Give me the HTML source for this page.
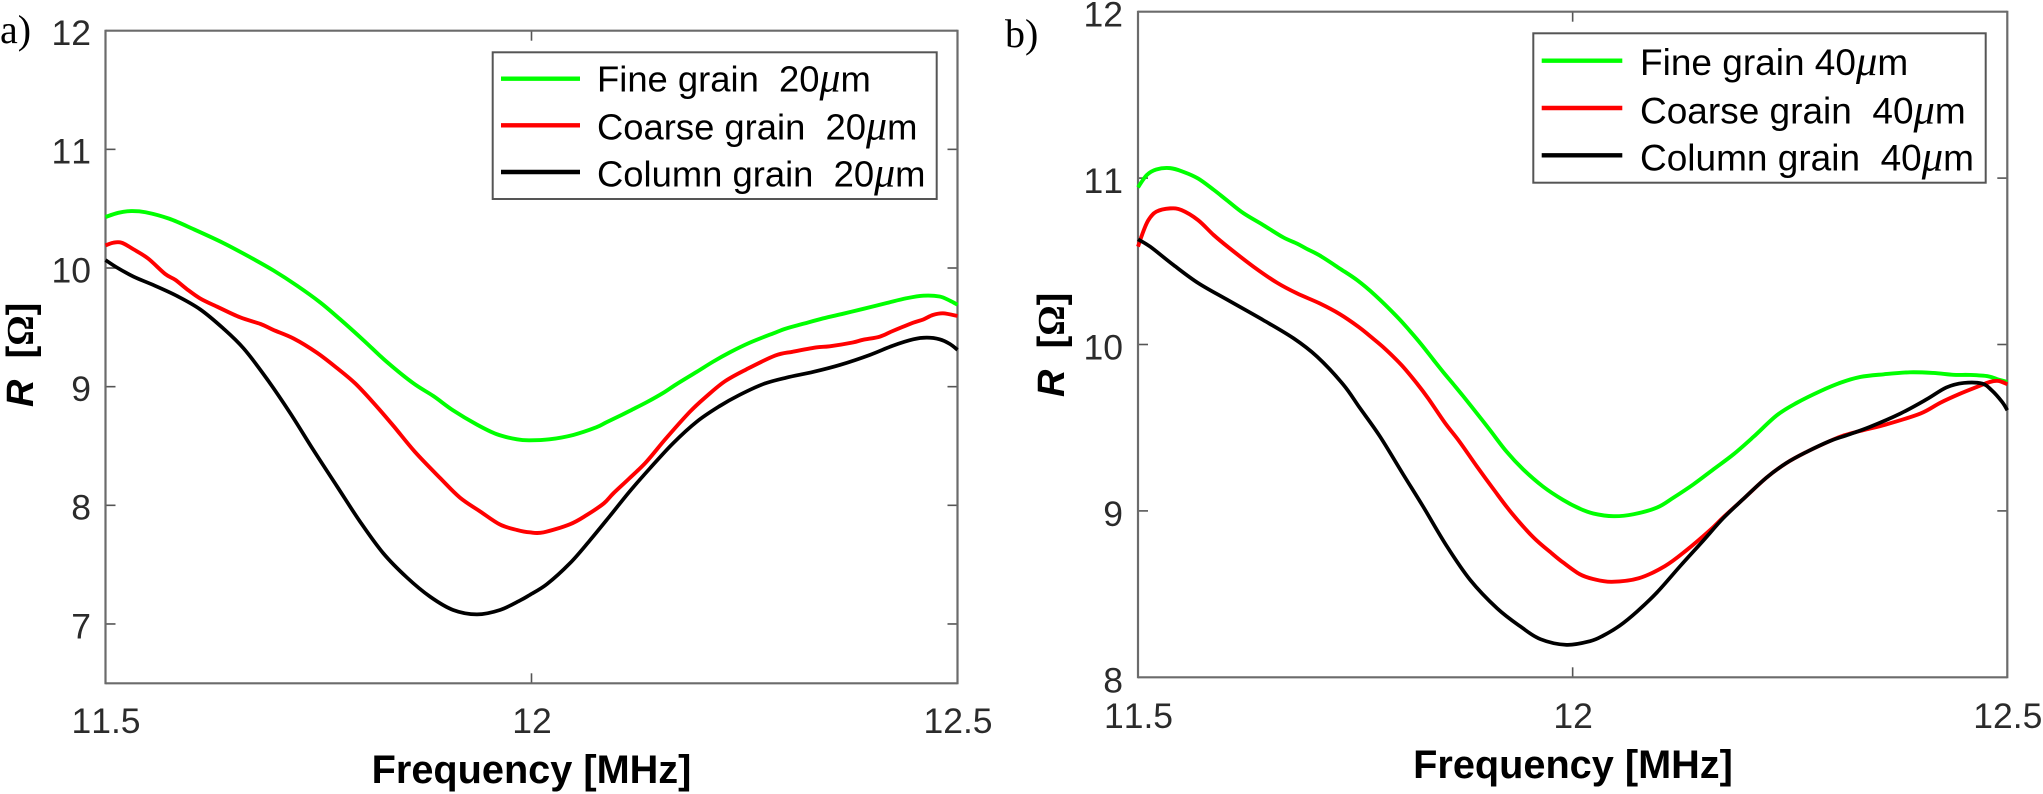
<!DOCTYPE html>
<html lang="en">
<head>
<meta charset="utf-8">
<title>Resistance vs frequency</title>
<style>
html,body{margin:0;padding:0;background:#fff;}
svg{display:block;}
text{white-space:pre;}
.tick{font-family:"Liberation Sans",sans-serif;font-size:35.5px;fill:#2b2b2b;font-kerning:none;}
.leg{font-family:"Liberation Sans",sans-serif;font-size:36.4px;fill:#000;font-kerning:none;}
.legb{font-size:37px;}
.mu{font-family:"Liberation Serif",serif;font-style:italic;font-size:1.15em;}
.xl{font-family:"Liberation Sans",sans-serif;font-weight:bold;font-size:39.7px;fill:#000;}
.yl{font-family:"Liberation Sans",sans-serif;font-weight:bold;font-size:38px;fill:#000;}
.om{font-family:"Liberation Serif",serif;font-weight:bold;}
.pl{font-family:"Liberation Serif",serif;font-size:40px;fill:#000;}
</style>
</head>
<body>
<svg id="figure" xmlns="http://www.w3.org/2000/svg" width="2043" height="794" viewBox="0 0 2043 794">
  <rect width="2043" height="794" fill="#fff"/>
  <g id="panelA"></g>
  <g id="panelB"></g>

  <text class="pl" x="0" y="43">a)</text>
  <text class="pl" x="1005" y="47">b)</text>

  <text class="xl" x="531.5" y="783" text-anchor="middle">Frequency [MHz]</text>
  <text class="xl" x="1573" y="778" text-anchor="middle">Frequency [MHz]</text>

  <text class="yl" transform="translate(33,407) rotate(-90)"><tspan font-style="italic">R</tspan>  [<tspan class="om">Ω</tspan>]</text>
  <text class="yl" transform="translate(1064,397) rotate(-90)"><tspan font-style="italic">R</tspan>  [<tspan class="om">Ω</tspan>]</text>

  <g>
    <rect x="492.7" y="52.3" width="444" height="146.7" fill="#fff" stroke="#555" stroke-width="2"/>
    <line x1="501" x2="580" y1="78.7" y2="78.7" stroke="#00ff00" stroke-width="4.4"/>
    <line x1="501" x2="580" y1="125.3" y2="125.3" stroke="#ff0000" stroke-width="4.4"/>
    <line x1="501" x2="580" y1="172" y2="172" stroke="#000" stroke-width="4.4"/>
    <text class="leg" x="597" y="91.7">Fine grain  20<tspan class="mu">μ</tspan>m</text>
    <text class="leg" x="597" y="139.3">Coarse grain  20<tspan class="mu">μ</tspan>m</text>
    <text class="leg" x="597" y="186.7">Column grain  20<tspan class="mu">μ</tspan>m</text>
  </g>

  <g>
    <rect x="1533.3" y="33.3" width="452.4" height="149.4" fill="#fff" stroke="#555" stroke-width="2"/>
    <line x1="1541.7" x2="1622.3" y1="60.7" y2="60.7" stroke="#00ff00" stroke-width="4.4"/>
    <line x1="1541.7" x2="1622.3" y1="108" y2="108" stroke="#ff0000" stroke-width="4.4"/>
    <line x1="1541.7" x2="1622.3" y1="155.3" y2="155.3" stroke="#000" stroke-width="4.4"/>
    <text class="leg legb" x="1640" y="75">Fine grain 40<tspan class="mu">μ</tspan>m</text>
    <text class="leg legb" x="1640" y="123.3">Coarse grain  40<tspan class="mu">μ</tspan>m</text>
    <text class="leg legb" x="1640" y="170.7">Column grain  40<tspan class="mu">μ</tspan>m</text>
  </g>
</svg>
<script>
// ---------- Chart data ----------
const xTickValues = [11.5, 12, 12.5];
const xTickLabels = ["11.5", "12", "12.5"];
const yTicksA = [7, 8, 9, 10, 11, 12];
const yTicksB = [8, 9, 10, 11, 12];

const fineFreqA = [11.5,11.515,11.53,11.547,11.575,11.604,11.6385,11.67,11.697,11.725,11.752,11.775,11.803,11.83,11.861,11.885,11.908,11.936,11.959,11.983,11.998,12.021,12.049,12.076,12.088,12.106,12.115,12.135,12.154,12.17,12.194,12.213,12.233,12.256,12.284,12.299,12.319,12.342,12.366,12.389,12.417,12.44,12.46,12.479,12.491,12.5];
const fineValuesA = [10.43,10.465,10.48,10.47,10.415,10.325,10.21,10.09,9.98,9.85,9.71,9.57,9.39,9.21,9.03,8.92,8.80,8.68,8.60,8.556,8.548,8.556,8.593,8.657,8.70,8.762,8.795,8.868,8.945,9.02,9.125,9.21,9.29,9.37,9.45,9.49,9.53,9.575,9.615,9.655,9.705,9.745,9.767,9.76,9.725,9.69];

const coarseFreqA = [11.5,11.509,11.519,11.533,11.55,11.57,11.582,11.595,11.611,11.631,11.658,11.682,11.697,11.721,11.748,11.772,11.793,11.815,11.838,11.863,11.893,11.916,11.94,11.963,11.983,11.998,12.014,12.045,12.065,12.085,12.096,12.115,12.135,12.158,12.186,12.205,12.227,12.252,12.286,12.307,12.334,12.35,12.377,12.389,12.409,12.424,12.448,12.46,12.471,12.483,12.5];
const coarseValuesA = [10.19,10.213,10.213,10.157,10.08,9.95,9.90,9.825,9.744,9.674,9.584,9.528,9.478,9.405,9.287,9.155,9.028,8.86,8.669,8.452,8.228,8.065,7.947,7.838,7.792,7.772,7.772,7.84,7.919,8.017,8.10,8.228,8.368,8.565,8.789,8.916,9.045,9.145,9.262,9.295,9.331,9.34,9.372,9.395,9.422,9.469,9.539,9.567,9.604,9.618,9.596];

const columnFreqA = [11.5,11.513,11.533,11.556,11.584,11.611,11.638,11.662,11.689,11.717,11.744,11.772,11.799,11.826,11.854,11.881,11.908,11.936,11.963,11.987,11.998,12.018,12.045,12.068,12.092,12.115,12.139,12.166,12.194,12.221,12.244,12.272,12.299,12.331,12.362,12.397,12.424,12.448,12.464,12.479,12.491,12.5];
const columnValuesA = [10.067,10.006,9.927,9.857,9.764,9.652,9.492,9.323,9.07,8.775,8.466,8.157,7.86,7.596,7.39,7.23,7.118,7.081,7.118,7.2,7.245,7.335,7.511,7.70,7.91,8.115,8.312,8.522,8.705,8.837,8.93,9.022,9.076,9.125,9.183,9.267,9.345,9.399,9.413,9.399,9.36,9.31];

const fineFreqB = [11.5,11.51,11.521,11.537,11.552,11.569,11.587,11.602,11.621,11.644,11.667,11.683,11.694,11.709,11.732,11.752,11.773,11.798,11.813,11.826,11.84,11.851,11.863,11.874,11.89,11.905,11.924,11.943,11.966,11.989,12.008,12.024,12.047,12.07,12.097,12.116,12.139,12.162,12.185,12.208,12.235,12.258,12.285,12.308,12.331,12.358,12.388,12.415,12.438,12.457,12.478,12.49,12.5];
const fineValuesB = [10.944,11.018,11.052,11.06,11.038,10.998,10.93,10.868,10.79,10.718,10.644,10.606,10.575,10.535,10.457,10.387,10.295,10.167,10.08,10.0,9.907,9.835,9.76,9.69,9.585,9.485,9.356,9.25,9.146,9.066,9.014,8.984,8.968,8.98,9.02,9.08,9.16,9.25,9.34,9.445,9.575,9.65,9.72,9.77,9.805,9.821,9.833,9.829,9.818,9.817,9.809,9.789,9.775];

const coarseFreqB = [11.5,11.506,11.512,11.521,11.537,11.55,11.569,11.587,11.604,11.633,11.66,11.683,11.709,11.732,11.754,11.767,11.784,11.803,11.821,11.834,11.853,11.87,11.89,11.909,11.93,11.955,11.976,11.989,12.008,12.024,12.045,12.076,12.106,12.131,12.158,12.173,12.196,12.223,12.246,12.269,12.296,12.311,12.334,12.361,12.4,12.423,12.446,12.465,12.48,12.49,12.5];
const coarseValuesB = [10.588,10.678,10.748,10.798,10.818,10.808,10.748,10.658,10.584,10.467,10.371,10.307,10.247,10.183,10.105,10.05,9.975,9.877,9.765,9.675,9.53,9.415,9.266,9.13,8.986,8.84,8.745,8.69,8.62,8.59,8.574,8.595,8.668,8.764,8.884,8.96,9.07,9.2,9.288,9.354,9.42,9.452,9.485,9.52,9.585,9.65,9.705,9.745,9.775,9.781,9.761];

const columnFreqB = [11.5,11.514,11.541,11.569,11.602,11.644,11.679,11.706,11.736,11.755,11.778,11.805,11.828,11.855,11.882,11.913,11.94,11.963,11.993,12.02,12.035,12.054,12.074,12.097,12.124,12.15,12.173,12.196,12.223,12.246,12.269,12.296,12.315,12.342,12.377,12.407,12.43,12.45,12.471,12.482,12.494,12.5];
const columnValuesB = [10.632,10.588,10.477,10.37,10.271,10.147,10.037,9.927,9.76,9.62,9.45,9.22,9.026,8.79,8.586,8.415,8.305,8.229,8.195,8.217,8.25,8.31,8.395,8.51,8.67,8.82,8.955,9.07,9.2,9.288,9.354,9.42,9.454,9.505,9.585,9.67,9.742,9.769,9.765,9.725,9.655,9.605];

// ---------- Drawing ----------
const NS = "http://www.w3.org/2000/svg";

function smoothPath(pts) {
  let d = "M" + pts[0][0].toFixed(2) + " " + pts[0][1].toFixed(2);
  for (let i = 0; i < pts.length - 1; i++) {
    const p0 = pts[i - 1] || pts[i];
    const p1 = pts[i];
    const p2 = pts[i + 1];
    const p3 = pts[i + 2] || p2;
    const c1x = p1[0] + (p2[0] - p0[0]) / 6;
    const c1y = p1[1] + (p2[1] - p0[1]) / 6;
    const c2x = p2[0] - (p3[0] - p1[0]) / 6;
    const c2y = p2[1] - (p3[1] - p1[1]) / 6;
    d += "C" + c1x.toFixed(2) + " " + c1y.toFixed(2) + " " + c2x.toFixed(2) + " " + c2y.toFixed(2) + " " + p2[0].toFixed(2) + " " + p2[1].toFixed(2);
  }
  return d;
}

function addLine(parent, x1, y1, x2, y2, color, width, name) {
  const el = document.createElementNS(NS, "line");
  el.setAttribute("x1", x1);
  el.setAttribute("y1", y1);
  el.setAttribute("x2", x2);
  el.setAttribute("y2", y2);
  el.setAttribute("stroke", color);
  el.setAttribute("stroke-width", width);
  
  
  parent.appendChild(el);
}

function addLabel(parent, x, y, anchor, content, name) {
  const el = document.createElementNS(NS, "text");
  el.setAttribute("x", x);
  el.setAttribute("y", y);
  el.setAttribute("text-anchor", anchor);
  el.setAttribute("class", "tick");
  
  
  el.textContent = content;
  parent.appendChild(el);
}

function addSeries(parent, freqs, vals, xs, ys, color, width, name) {
  const el = document.createElementNS(NS, "path");
  el.setAttribute("d", smoothPath(freqs.map(function (f, i) { return [xs(f), ys(vals[i])]; })));
  el.setAttribute("fill", "none");
  el.setAttribute("stroke", color);
  el.setAttribute("stroke-width", width);
  el.setAttribute("stroke-linejoin", "round");
  el.setAttribute("stroke-linecap", "butt");
  
  
  parent.appendChild(el);
}

function drawPanel(parent, box, yTicks, yMin, yMax, series) {
  const xs = function (f) { return box.left + (f - 11.5) / (12.5 - 11.5) * (box.right - box.left); };
  const ys = function (v) { return box.bottom - (v - yMin) / (yMax - yMin) * (box.bottom - box.top); };
  const axisColor = "#6b6b6b";
  const tickLen = 10;

  xTickValues.forEach(function (t, i) {
    const x = xs(t);
    if (t > 11.5 && t < 12.5) {
      addLine(parent, x, box.top, x, box.top + tickLen, "#555", 1.6, "x-tick-top");
      addLine(parent, x, box.bottom, x, box.bottom - tickLen, "#555", 1.6, "x-tick-bottom");
    }
    addLabel(parent, x + box.xLabelDx, box.xLabelY, "middle", xTickLabels[i], "x-tick-label");
  });

  yTicks.forEach(function (t) {
    const y = ys(t);
    if (t > yMin && t < yMax) {
      addLine(parent, box.left, y, box.left + tickLen, y, "#555", 1.6, "y-tick-left");
      addLine(parent, box.right, y, box.right - tickLen, y, "#555", 1.6, "y-tick-right");
    }
    addLabel(parent, box.yLabelX, y + box.yLabelDy, "end", String(t), "y-tick-label");
  });

  addLine(parent, box.left, box.top, box.right, box.top, axisColor, 2.2, "axis-top");
  addLine(parent, box.left, box.bottom, box.right, box.bottom, axisColor, 2.2, "axis-bottom");
  addLine(parent, box.left, box.top - 1, box.left, box.bottom + 1, axisColor, 2.2, "axis-left");
  addLine(parent, box.right, box.top - 1, box.right, box.bottom + 1, axisColor, 2.2, "axis-right");

  series.forEach(function (s) {
    addSeries(parent, s.f, s.v, xs, ys, s.color, s.width, s.name);
  });
}

drawPanel(document.getElementById("panelA"),
  { left: 105.5, right: 957.5, top: 30.7, bottom: 683.3, xLabelY: 733, xLabelDx: 0.5, yLabelX: 91, yLabelDy: 14.3 },
  yTicksA, 6.5, 12,
  [
    { f: fineFreqA, v: fineValuesA, color: "#00ff00", width: 3.9, name: "series-fine-grain-20um" },
    { f: coarseFreqA, v: coarseValuesA, color: "#ff0000", width: 3.9, name: "series-coarse-grain-20um" },
    { f: columnFreqA, v: columnValuesA, color: "#000000", width: 3.7, name: "series-column-grain-20um" }
  ]);

drawPanel(document.getElementById("panelB"),
  { left: 1138, right: 2007.3, top: 11.7, bottom: 677.3, xLabelY: 728, xLabelDx: 0.5, yLabelX: 1123, yLabelDy: 15 },
  yTicksB, 8, 12,
  [
    { f: fineFreqB, v: fineValuesB, color: "#00ff00", width: 3.9, name: "series-fine-grain-40um" },
    { f: coarseFreqB, v: coarseValuesB, color: "#ff0000", width: 3.9, name: "series-coarse-grain-40um" },
    { f: columnFreqB, v: columnValuesB, color: "#000000", width: 3.7, name: "series-column-grain-40um" }
  ]);
</script>
</body>
</html>
